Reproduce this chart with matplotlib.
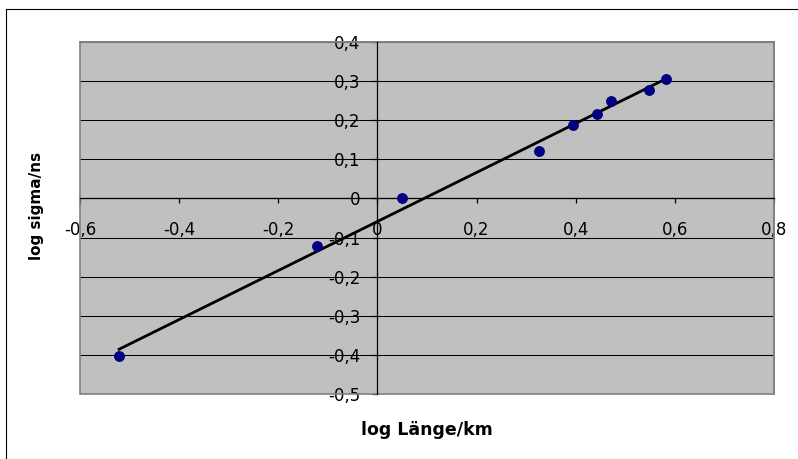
import matplotlib
matplotlib.use("Agg")
import matplotlib.pyplot as plt
from matplotlib.patches import Rectangle
from matplotlib.lines import Line2D
from matplotlib.ticker import FuncFormatter, FixedLocator
import numpy as np

plt.rcParams['font.family'] = ['DejaVu Sans']
plt.rcParams['axes.unicode_minus'] = False

log_laenge = [-0.521, -0.1225, 0.050, 0.3266, 0.394, 0.4436, 0.471, 0.5484, 0.582]
log_sigma = [-0.403, -0.121, 0.000, 0.1212, 0.187, 0.215, 0.250, 0.277, 0.3046]
x_ticks = [-0.6, -0.4, -0.2, 0.0, 0.2, 0.4, 0.6, 0.8]
y_ticks = [-0.5, -0.4, -0.3, -0.2, -0.1, 0.0, 0.1, 0.2, 0.3, 0.4]
x_title = "log Länge/km"
y_title = "log sigma/ns"

W, H = 798, 459
fig = plt.figure(figsize=(W / 100, H / 100), dpi=100)
fig.patch.set_facecolor('white')

ax = fig.add_axes([80 / W, 1 - 394 / H, (774 - 80) / W, (394 - 42) / H])
ax.set_facecolor('#C0C0C0')
ax.set_xlim(-0.6, 0.8)
ax.set_ylim(-0.5, 0.4)

# horizontal gridlines
for yv in y_ticks:
    ax.axhline(yv, color='black', lw=0.75, zorder=1)

# plot area border
for s in ['top', 'right']:
    ax.spines[s].set_color('#808080')
    ax.spines[s].set_linewidth(1.2)
ax.add_patch(Rectangle((0, 0), 1, 1, transform=ax.transAxes, fill=False,
                       edgecolor='#808080', lw=1.2, zorder=2, clip_on=False))

# axes through origin
ax.spines['left'].set_position(('data', 0))
ax.spines['bottom'].set_position(('data', 0))
for s in ['left', 'bottom']:
    ax.spines[s].set_color('black')
    ax.spines[s].set_linewidth(0.9)
    ax.spines[s].set_zorder(3)

fmt = FuncFormatter(lambda v, p: ('%g' % round(v, 2)).replace('.', ','))
ax.xaxis.set_major_locator(FixedLocator(x_ticks))
ax.yaxis.set_major_locator(FixedLocator(y_ticks))
ax.xaxis.set_major_formatter(fmt)
ax.yaxis.set_major_formatter(fmt)
ax.tick_params(axis='x', direction='out', length=3.6, width=0.9, pad=12.5,
               labelsize=12, colors='black')
ax.tick_params(axis='y', direction='out', length=3.6, width=0.9, pad=8.5,
               labelsize=12, colors='black')

# data points
ax.plot(log_laenge, log_sigma, 'o', color='#000080', markersize=6.8, zorder=5,
        clip_on=False)

# linear trendline
k, d = np.polyfit(log_laenge, log_sigma, 1)
xs = np.array([min(log_laenge), max(log_laenge)])
ax.plot(xs, k * xs + d, color='black', lw=2.0, zorder=4)

fig.text(427 / W, 1 - 430 / H, x_title, ha='center', va='center',
         fontsize=12.5, fontweight='bold')
fig.text(36 / W, 1 - 206 / H, y_title, ha='center', va='center',
         rotation=90, fontsize=11, fontweight='bold')

# outer chart border (left and top)
fig.add_artist(Line2D([5.5 / W, 5.5 / W], [0, 1 - 9 / H], color='black', lw=0.8))
fig.add_artist(Line2D([5.5 / W, 1], [1 - 9 / H, 1 - 9 / H], color='black', lw=0.8))

fig.savefig('out.png', dpi=100)
